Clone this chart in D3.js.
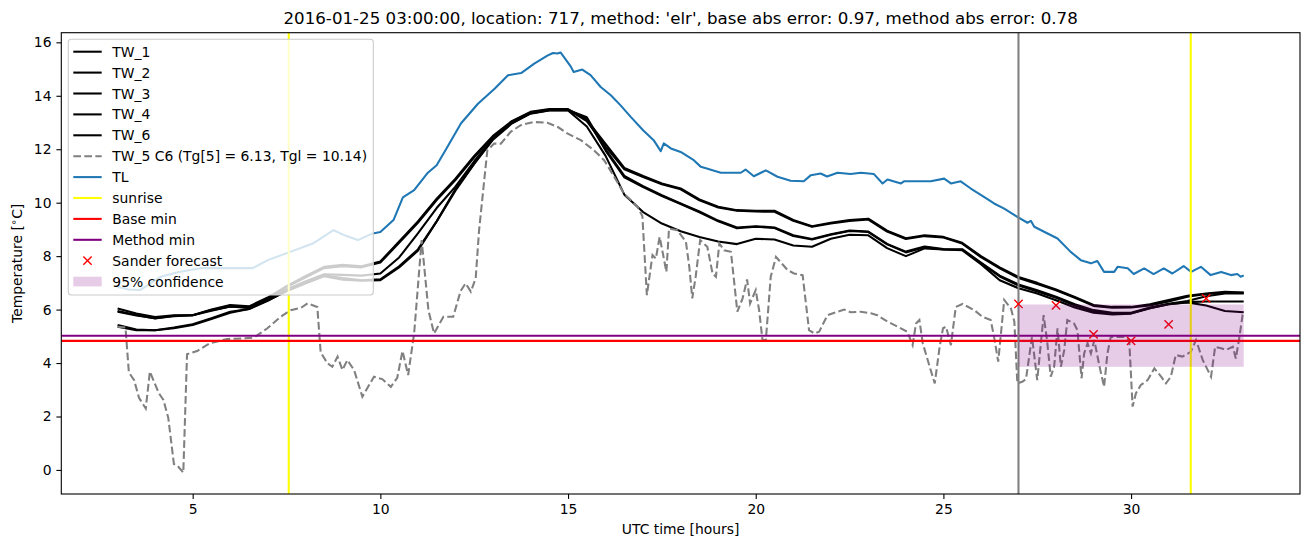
<!DOCTYPE html>
<html><head><meta charset="utf-8">
<script src="https://cdn.jsdelivr.net/npm/d3@7/dist/d3.min.js"></script>
<style>body{margin:0;background:#fff} svg{display:block} text{font-family:"DejaVu Sans",sans-serif;fill:#000}</style>
</head><body><svg id="c" width="1311" height="547"></svg>
<script>
// ---------------- DATA ----------------
const titleText = "2016-01-25 03:00:00, location: 717, method: 'elr', base abs error: 0.97, method abs error: 0.78";
const twTimes = [3,3.5,4,4.5,5,5.5,6,6.5,7,7.5,8,8.5,9,9.5,10,10.5,11,11.5,12,12.5,13,13.5,14,14.5,15,15.5,16,16.5,17,17.5,18,18.5,19,19.5,20,20.5,21,21.5,22,22.5,23,23.5,24,24.5,25,25.5,26,26.5,27,27.5,28,28.5,29,29.5,30,30.5,31,31.5,32,32.5,33];
const tw1 = [6.04,5.85,5.72,5.79,5.79,6.0,6.17,6.12,6.45,6.88,7.25,7.6,7.68,7.62,7.8,8.55,9.3,10.15,10.9,11.75,12.5,13.05,13.4,13.5,13.5,13.1,12.2,11.3,11.0,10.72,10.53,10.12,9.85,9.72,9.7,9.7,9.35,9.12,9.25,9.35,9.4,8.95,8.67,8.78,8.72,8.5,8.0,7.58,7.22,7.0,6.75,6.47,6.17,6.1,6.1,6.2,6.36,6.52,6.6,6.67,6.64];
const tw2 = [5.95,5.8,5.67,5.77,5.79,5.96,6.12,6.08,6.4,6.84,7.2,7.55,7.62,7.58,7.76,8.5,9.25,10.1,10.85,11.7,12.45,13.02,13.38,13.48,13.48,13.05,12.1,11.25,10.96,10.69,10.5,10.09,9.82,9.7,9.67,9.66,9.32,9.1,9.22,9.32,9.37,8.92,8.64,8.75,8.7,8.47,7.96,7.54,7.18,6.96,6.72,6.44,6.14,6.07,6.08,6.15,6.3,6.48,6.58,6.63,6.63];
const tw3 = [5.92,5.78,5.68,5.75,5.79,5.98,6.12,6.06,6.38,6.75,7.05,7.32,7.3,7.27,7.35,7.95,8.85,9.8,10.6,11.55,12.4,13.0,13.35,13.47,13.47,13.2,12.0,11.0,10.62,10.28,9.97,9.67,9.33,9.07,9.12,9.07,8.78,8.64,8.82,8.96,8.92,8.46,8.17,8.36,8.27,8.26,7.76,7.27,6.94,6.72,6.48,6.2,5.98,5.88,5.88,6.08,6.22,6.32,6.5,6.6,6.6];
const tw4 = [5.42,5.25,5.23,5.33,5.45,5.68,5.92,6.02,6.33,6.7,7.0,7.28,7.18,7.1,7.13,7.62,8.25,9.3,10.45,11.45,12.38,12.98,13.35,13.46,13.46,13.15,11.95,10.95,10.58,10.25,9.95,9.64,9.3,9.04,9.1,9.05,8.75,8.62,8.8,8.94,8.9,8.44,8.14,8.33,8.25,8.24,7.74,7.24,6.9,6.68,6.44,6.15,5.92,5.85,5.86,6.05,6.2,6.28,6.3,6.3,6.3];
const tw6 = [5.36,5.23,5.23,5.3,5.42,5.65,5.88,6.02,6.35,6.68,6.97,7.25,7.12,7.08,7.1,7.58,8.2,9.3,10.5,11.46,12.36,12.96,13.33,13.45,13.45,12.85,11.75,10.3,9.65,9.22,8.93,8.72,8.55,8.45,8.65,8.62,8.4,8.35,8.65,8.8,8.78,8.3,8.0,8.29,8.25,8.22,7.7,7.1,6.8,6.6,6.35,6.08,5.88,5.82,5.85,6.05,6.2,6.27,6.15,5.95,5.9];

const tw5Times = [3.0,3.21,3.3,3.44,3.57,3.75,3.86,4.0,4.1,4.22,4.35,4.5,4.6,4.75,4.85,5.12,5.45,5.92,6.3,6.63,6.99,7.34,7.61,7.88,8.06,8.32,8.41,8.59,8.72,8.86,8.99,9.12,9.3,9.52,9.83,10.05,10.28,10.45,10.59,10.74,10.9,11.1,11.28,11.43,11.68,11.94,12.14,12.27,12.41,12.54,12.63,12.85,13.03,13.21,13.47,13.74,14.09,14.45,14.72,14.98,15.34,15.69,15.96,16.23,16.49,16.85,16.98,17.1,17.25,17.34,17.44,17.51,17.62,17.69,17.91,18.14,18.23,18.31,18.4,18.52,18.71,18.85,18.94,19.03,19.16,19.34,19.51,19.65,19.77,19.85,20.0,20.09,20.18,20.27,20.4,20.54,20.85,21.02,21.25,21.42,21.56,21.69,21.91,22.18,22.36,22.53,22.8,23.07,23.24,23.51,23.78,24.04,24.18,24.27,24.36,24.45,24.66,24.77,24.9,24.99,25.07,25.2,25.33,25.51,25.82,26.04,26.26,26.35,26.46,26.62,26.8,26.89,26.97,27.1,27.2,27.36,27.5,27.67,27.76,27.86,27.95,28.04,28.13,28.22,28.3,28.48,28.57,28.68,28.75,28.84,28.93,29.02,29.15,29.28,29.37,29.46,29.82,29.95,30.04,30.13,30.26,30.44,30.62,30.8,30.93,31.06,31.19,31.37,31.59,31.73,31.91,32.13,32.24,32.4,32.53,32.71,32.79,32.88,32.97,33.0];
const tw5Values = [5.36,5.33,3.65,3.36,2.7,2.3,3.68,3.2,2.87,2.62,1.95,0.22,0.15,-0.1,4.33,4.45,4.74,4.9,4.92,4.95,5.3,5.73,5.98,6.06,6.23,6.1,4.4,3.99,3.86,4.24,3.74,4.11,3.74,2.74,3.49,3.4,3.11,3.45,4.45,3.55,5.11,8.6,5.98,5.11,5.73,5.73,6.7,6.98,6.67,7.17,8.97,11.96,12.21,12.21,12.65,12.9,13.02,12.99,12.84,12.59,12.34,11.96,11.59,10.97,10.34,9.85,9.5,6.54,8.04,7.91,8.72,8.22,7.41,9.03,8.97,8.54,7.6,6.42,7.23,8.6,8.35,7.35,7.23,8.47,8.22,8.16,5.92,6.42,7.13,6.23,6.73,5.98,4.86,4.86,7.23,7.97,7.48,7.35,7.29,5.23,5.11,5.17,5.79,5.92,6.0,5.9,5.92,5.86,5.79,5.55,5.36,5.17,4.67,5.48,5.61,4.74,3.74,3.24,4.61,5.3,5.36,4.67,6.1,6.21,5.98,5.73,5.61,4.98,4.05,6.36,6.04,5.55,3.24,3.3,3.4,4.98,3.36,5.79,4.86,3.49,3.86,5.3,3.86,4.49,5.61,5.48,5.23,3.43,4.36,4.74,4.36,4.86,3.93,3.11,4.36,4.98,4.98,4.86,2.37,2.87,3.18,3.36,3.8,3.49,3.24,3.49,4.3,4.24,4.42,4.86,4.11,3.49,4.61,4.55,4.49,4.61,4.17,4.92,5.79,5.9];

const tlTimes = [3.0,3.3,3.6,4.15,4.6,5.2,6.0,6.6,7.0,7.6,8.2,8.75,9.1,9.4,9.8,10.0,10.35,10.6,10.9,11.25,11.5,11.8,12.15,12.6,13.05,13.4,13.75,14.1,14.45,14.6,14.72,14.8,15.07,15.15,15.38,15.6,15.87,16.14,16.4,16.67,17.0,17.28,17.47,17.55,17.74,18.0,18.35,18.54,19.07,19.6,19.73,19.95,20.27,20.58,20.93,21.28,21.47,21.73,21.9,22.18,22.53,22.8,23.15,23.38,23.51,23.87,23.95,24.66,25.02,25.2,25.46,25.73,26.08,26.35,26.62,26.97,27.24,27.33,27.42,28.04,28.39,28.66,28.93,29.1,29.28,29.55,29.64,29.91,30.07,30.35,30.6,30.87,31.1,31.4,31.6,31.86,32.12,32.4,32.66,32.83,32.92,33.0];
const tlValues = [6.85,6.75,6.73,7.23,7.4,7.55,7.55,7.55,7.85,8.16,8.47,8.97,8.75,8.6,8.85,8.9,9.35,10.2,10.47,11.1,11.4,12.12,12.97,13.7,14.27,14.77,14.85,15.2,15.5,15.6,15.58,15.62,15.1,14.89,14.98,14.77,14.33,14.02,13.64,13.21,12.71,12.34,11.93,12.22,12.03,11.9,11.59,11.34,11.12,11.12,11.24,10.99,11.21,10.97,10.82,10.8,11.03,11.09,10.98,11.12,11.07,11.12,11.07,10.72,10.87,10.72,10.8,10.8,10.9,10.72,10.8,10.53,10.22,9.97,9.78,9.47,9.25,9.32,9.1,8.66,8.16,7.85,7.73,7.82,7.41,7.41,7.6,7.55,7.33,7.54,7.33,7.54,7.35,7.63,7.41,7.6,7.29,7.41,7.29,7.33,7.23,7.28];

const sunriseTimes = [7.56, 31.59];
const baseMin = 4.83;
const methodMin = 5.02;
const forecastStart = 27;
const sanderTimes = [27, 28, 29, 30, 31, 32];
const sanderValues = [6.21, 6.16, 5.07, 4.83, 5.45, 6.42];
const confTimes = [27, 33];
const confLow = 3.86, confHigh = 6.19;
const xTickValues = [5, 10, 15, 20, 25, 30];
const yTickValues = [0, 2, 4, 6, 8, 10, 12, 14, 16];
const legendLabels = ["TW_1","TW_2","TW_3","TW_4","TW_6","TW_5 C6 (Tg[5] = 6.13, Tgl = 10.14)","TL","sunrise","Base min","Method min","Sander forecast","95% confidence"];

// ---------------- CHART ----------------
const svg = d3.select("#c");
const L = 61.3, R = 1300, T = 32.7, B = 494;
const x = d3.scaleLinear().domain([1.5, 34.5]).range([L, R]);
const y = d3.scaleLinear().domain([-0.9, 16.36]).range([B, T]);
const LW = 2.08;

svg.append("defs").append("clipPath").attr("id","clip")
  .append("rect").attr("x",L).attr("y",T).attr("width",R-L).attr("height",B-T);
const g = svg.append("g").attr("clip-path","url(#clip)");

const line = d3.line().x(d=>x(d[0])).y(d=>y(d[1]));
const zip = (ts, vs) => ts.map((t,i)=>[t, vs[i]]);

[tw1, tw2, tw3, tw4, tw6].forEach(vs => {
  g.append("path").datum(zip(twTimes, vs)).attr("d", line)
    .attr("fill","none").attr("stroke","#000").attr("stroke-width",LW).attr("stroke-linejoin","round");
});
g.append("path").datum(zip(tw5Times, tw5Values)).attr("d", line)
  .attr("fill","none").attr("stroke","#808080").attr("stroke-width",LW)
  .attr("stroke-dasharray","7.7,3.33");
g.append("path").datum(zip(tlTimes, tlValues)).attr("d", line)
  .attr("fill","none").attr("stroke","#1f77b4").attr("stroke-width",LW).attr("stroke-linejoin","round");

sunriseTimes.forEach(t => {
  g.append("line").attr("x1",x(t)).attr("x2",x(t)).attr("y1",T).attr("y2",B)
    .attr("stroke","#ffff00").attr("stroke-width",LW);
});
g.append("line").attr("x1",L).attr("x2",R).attr("y1",y(baseMin)).attr("y2",y(baseMin))
  .attr("stroke","#ff0000").attr("stroke-width",LW);
g.append("line").attr("x1",L).attr("x2",R).attr("y1",y(methodMin)).attr("y2",y(methodMin))
  .attr("stroke","#800080").attr("stroke-width",LW);
g.append("line").attr("x1",x(forecastStart)).attr("x2",x(forecastStart)).attr("y1",T).attr("y2",B)
  .attr("stroke","#808080").attr("stroke-width",LW);

const ms = 4.15;
sanderTimes.forEach((t,i) => {
  const cx = x(t), cy = y(sanderValues[i]);
  g.append("path").attr("d",`M${cx-ms},${cy-ms}L${cx+ms},${cy+ms}M${cx-ms},${cy+ms}L${cx+ms},${cy-ms}`)
    .attr("stroke","#ff0000").attr("stroke-width",1.4).attr("fill","none");
});
g.append("rect").attr("x",x(confTimes[0])).attr("y",y(confHigh))
  .attr("width",x(confTimes[1])-x(confTimes[0])).attr("height",y(confLow)-y(confHigh))
  .attr("fill","#800080").attr("fill-opacity",0.2);

// axes
const xAxis = d3.axisBottom(x).tickValues(xTickValues).tickSize(4.9).tickPadding(4.9).tickFormat(d3.format("d"));
const yAxis = d3.axisLeft(y).tickValues(yTickValues).tickSize(4.9).tickPadding(4.9).tickFormat(d3.format("d"));
const gx = svg.append("g").attr("transform",`translate(0,${B})`).call(xAxis);
const gy = svg.append("g").attr("transform",`translate(${L},0)`).call(yAxis);
[gx, gy].forEach(a => {
  a.select(".domain").remove();
  a.selectAll(".tick line").attr("stroke","#000").attr("stroke-width",1.1);
  a.selectAll(".tick text").attr("font-size","13.9px").attr("font-family","DejaVu Sans").attr("fill","#000");
});
svg.append("rect").attr("x",L).attr("y",T).attr("width",R-L).attr("height",B-T)
  .attr("fill","none").attr("stroke","#000").attr("stroke-width",1.1);

// labels
svg.append("text").attr("x",(L+R)/2).attr("y",24).attr("text-anchor","middle")
  .attr("font-size","16.67px").text(titleText);
svg.append("text").attr("x",(L+R)/2).attr("y",534).attr("text-anchor","middle")
  .attr("font-size","13.9px").text("UTC time [hours]");
const yl = svg.append("text").attr("transform",`translate(22,${(T+B)/2}) rotate(-90)`)
  .attr("text-anchor","middle").attr("font-size","13.9px");
yl.append("tspan").text("Temperature [");
yl.append("tspan").attr("font-size","10px").attr("dy","-5").text("∘");
yl.append("tspan").attr("dy","5").text("C]");

// legend
const lg = svg.append("g");
lg.append("rect").attr("x",68.3).attr("y",39.3).attr("width",305).attr("height",255.7).attr("rx",3)
  .attr("fill","#fff").attr("fill-opacity",0.8).attr("stroke","#cccccc").attr("stroke-width",1.1);
const hx0 = 73.3, hx1 = 101.7, tx = 112.3;
legendLabels.forEach((lab, i) => {
  const cy = 51.7 + i*20.9;
  if (i < 10) {
    const col = i<5 ? "#000" : i===5 ? "#808080" : i===6 ? "#1f77b4" : i===7 ? "#ffff00" : i===8 ? "#ff0000" : "#800080";
    const l = lg.append("line").attr("x1",hx0).attr("x2",hx1).attr("y1",cy).attr("y2",cy)
      .attr("stroke",col).attr("stroke-width",LW);
    if (i===5) l.attr("stroke-dasharray","7.7,3.33");
  } else if (i===10) {
    const cx = (hx0+hx1)/2;
    lg.append("path").attr("d",`M${cx-ms},${cy-ms}L${cx+ms},${cy+ms}M${cx-ms},${cy+ms}L${cx+ms},${cy-ms}`)
      .attr("stroke","#ff0000").attr("stroke-width",1.4);
  } else {
    lg.append("rect").attr("x",hx0).attr("y",cy-4.9).attr("width",hx1-hx0).attr("height",9.7)
      .attr("fill","#800080").attr("fill-opacity",0.2);
  }
  lg.append("text").attr("x",tx).attr("y",cy).attr("dy","0.36em").attr("font-size","13.9px").text(lab);
});
</script></body></html>
